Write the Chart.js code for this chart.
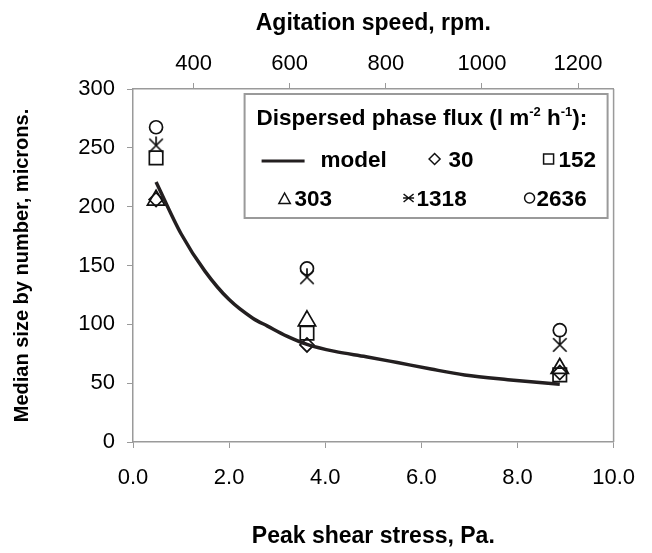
<!DOCTYPE html>
<html>
<head>
<meta charset="utf-8">
<script src="https://cdn.jsdelivr.net/npm/chart.js@4.4.1/dist/chart.umd.min.js"></script>
<style>
    html, body { margin: 0; padding: 0; background: #fff; }
    #wrap { width: 652px; height: 553px; }
    #sizeChart { display: block; }
</style>
</head>
<body>
<div id="wrap"><canvas id="sizeChart" width="652" height="553"></canvas></div>
<script>
// peak shear stress (Pa) of the three runs
const stressX = [0.48, 3.62, 8.88];

// median size by number (microns) per dispersed phase flux
const flux30 = [206, 82.5, 59];
const flux152 = [241.5, 92.5, 57];
const flux303 = [205.5, 103, 62.5];
const flux1318 = [252, 140, 82.5];
const flux2636 = [267.5, 147.5, 95];

// model curve
const modelX = [0.48, 1.0, 1.5, 2.0, 2.5, 2.8, 3.2, 3.62, 4.2, 4.85, 5.5, 6.2, 6.9, 7.8, 8.88];
const modelY = [221, 177, 145, 121, 105, 98.5, 90, 83, 77, 72.5, 67.5, 62, 57, 53, 49];

const stressTicks = [0, 2, 4, 6, 8, 10];
const speedTicks = [400, 600, 800, 1000, 1200];
const sizeTicks = [0, 50, 100, 150, 200, 250, 300];

const AXIS_GREY = '#9a9a9a';
const INK = '#111111';
const FONT = "'Liberation Sans', Arial, sans-serif";

Chart.defaults.font.family = FONT;
Chart.defaults.color = '#000';

function drawStarPath(g, x, y, r) {
    const d = r * 0.75;
    g.moveTo(x - d, y - d);
    g.lineTo(x + d, y + d);
    g.moveTo(x + d, y - d);
    g.lineTo(x - d, y + d);
    g.moveTo(x, y - r);
    g.lineTo(x, y);
}

function makeStar(r, lw) {
    const size = Math.ceil(2 * r + lw + 2);
    const c = document.createElement('canvas');
    c.width = size;
    c.height = size;
    const g = c.getContext('2d');
    g.strokeStyle = INK;
    g.lineWidth = lw;
    g.beginPath();
    drawStarPath(g, size / 2, size / 2, r);
    g.stroke();
    return c;
}

const starImg = makeStar(9, 1.7);

function points(ys) {
    return stressX.map((x, i) => ({ x: x, y: ys[i] }));
}

function markerSet(label, ys, style, radius) {
    return {
        label: label,
        data: points(ys),
        showLine: false,
        pointStyle: style,
        pointRadius: radius,
        pointBorderWidth: 1.7,
        pointBorderColor: INK,
        pointBackgroundColor: 'rgba(0,0,0,0)'
    };
}

function drawMarker(ctx, style, x, y, r) {
    ctx.beginPath();
    if (style === 'diamond') {
        ctx.moveTo(x, y - r);
        ctx.lineTo(x + r, y);
        ctx.lineTo(x, y + r);
        ctx.lineTo(x - r, y);
        ctx.closePath();
    } else if (style === 'square') {
        ctx.rect(x - r, y - r, 2 * r, 2 * r);
    } else if (style === 'triangle') {
        ctx.moveTo(x, y - r);
        ctx.lineTo(x + r * 0.95, y + r * 0.75);
        ctx.lineTo(x - r * 0.95, y + r * 0.75);
        ctx.closePath();
    } else if (style === 'circle') {
        ctx.arc(x, y, r, 0, Math.PI * 2);
    } else if (style === 'star') {
        ctx.moveTo(x - r, y - r * 0.8);
        ctx.lineTo(x + r, y + r * 0.8);
        ctx.moveTo(x + r, y - r * 0.8);
        ctx.lineTo(x - r, y + r * 0.8);
        ctx.moveTo(x - r * 1.1, y);
        ctx.lineTo(x + r * 1.1, y);
    }
    ctx.stroke();
}

// boxed legend inside the plot, two rows of three
const fluxLegend = {
    id: 'fluxLegend',
    afterDraw(chart) {
        const ctx = chart.ctx;
        const area = chart.chartArea;
        const left = area.right - 369;
        const top = area.top + 5;
        ctx.save();

        // right frame of the plot
        ctx.strokeStyle = AXIS_GREY;
        ctx.lineWidth = 1.5;
        ctx.beginPath();
        ctx.moveTo(area.right, area.top);
        ctx.lineTo(area.right, area.bottom);
        ctx.stroke();

        ctx.lineWidth = 2;
        ctx.strokeRect(left, top, 363, 124);

        ctx.fillStyle = '#000';
        ctx.textBaseline = 'alphabetic';
        ctx.textAlign = 'left';

        const big = 'bold 22.5px ' + FONT;
        const small = 'bold 13px ' + FONT;

        // title with superscripts
        const parts = [
            ['Dispersed phase flux (l m', false],
            ['-2', true],
            [' h', false],
            ['-1', true],
            ['):', false]
        ];
        let tx = left + 12;
        const ty = top + 31;
        parts.forEach(p => {
            ctx.font = p[1] ? small : big;
            ctx.fillText(p[0], tx, p[1] ? ty - 9 : ty);
            tx += ctx.measureText(p[0]).width;
        });

        ctx.font = big;
        const row1 = top + 73;
        const row2 = top + 112;
        const mid1 = row1 - 8;
        const mid2 = row2 - 8;

        // model
        ctx.lineWidth = 3;
        ctx.strokeStyle = '#231f20';
        ctx.beginPath();
        ctx.moveTo(left + 17, mid1 + 2);
        ctx.lineTo(left + 60, mid1 + 2);
        ctx.stroke();
        ctx.fillText('model', left + 76, row1);

        ctx.lineWidth = 1.5;
        ctx.strokeStyle = INK;
        const entries = [
            ['diamond', '30', left + 190, left + 204, mid1, row1, 5.5],
            ['square', '152', left + 304, left + 314, mid1, row1, 5],
            ['triangle', '303', left + 40, left + 50, mid2 + 1, row2, 6],
            ['star', '1318', left + 164, left + 172, mid2, row2, 5],
            ['circle', '2636', left + 285, left + 292, mid2, row2, 5]
        ];
        entries.forEach(e => {
            drawMarker(ctx, e[0], e[2], e[4], e[6]);
            ctx.fillText(e[1], e[3], e[5]);
        });
        ctx.restore();
    }
};

const ctx = document.getElementById('sizeChart').getContext('2d');
new Chart(ctx, {
    type: 'scatter',
    data: {
        datasets: [
            {
                label: 'model',
                data: modelX.map((x, i) => ({ x: x, y: modelY[i] })),
                showLine: true,
                borderColor: '#231f20',
                borderWidth: 3.5,
                pointRadius: 0,
                cubicInterpolationMode: 'monotone'
            },
            markerSet('30', flux30, 'rectRot', 7),
            markerSet('152', flux152, 'rect', 9.5),
            markerSet('303', flux303, 'triangle', 10),
            markerSet('1318', flux1318, starImg, 9),
            markerSet('2636', flux2636, 'circle', 6.5)
        ]
    },
    options: {
        responsive: false,
        animation: false,
        events: [],
        layout: { padding: { left: 0, right: 30, top: 0, bottom: 0 } },
        plugins: {
            legend: { display: false },
            tooltip: { enabled: false }
        },
        scales: {
            x: {
                type: 'linear',
                position: 'bottom',
                min: 0,
                max: 10,
                afterBuildTicks: s => { s.ticks = stressTicks.map(v => ({ value: v })); },
                afterFit: s => { s.height = 111; },
                ticks: {
                    padding: 17,
                    font: { size: 22 },
                    color: '#000',
                    callback: v => v.toFixed(1)
                },
                grid: { drawOnChartArea: false, drawTicks: true, tickLength: 6, color: AXIS_GREY },
                border: { color: AXIS_GREY, width: 1.5 },
                title: {
                    display: true,
                    text: 'Peak shear stress, Pa.',
                    font: { size: 23, weight: 'bold' },
                    color: '#000',
                    padding: { top: 0, bottom: 3 }
                }
            },
            x2: {
                type: 'linear',
                position: 'top',
                min: 274,
                max: 1274,
                afterBuildTicks: s => { s.ticks = speedTicks.map(v => ({ value: v })); },
                afterFit: s => { s.height = 89; },
                ticks: { padding: 6, font: { size: 22 }, color: '#000', callback: v => String(v) },
                grid: { drawOnChartArea: false, drawTicks: true, tickLength: 6, color: AXIS_GREY },
                border: { color: AXIS_GREY, width: 1.5 },
                title: {
                    display: true,
                    text: 'Agitation speed, rpm.',
                    font: { size: 23, weight: 'bold' },
                    color: '#000',
                    padding: { top: 10, bottom: 0 }
                }
            },
            y: {
                type: 'linear',
                min: 0,
                max: 300,
                afterBuildTicks: s => { s.ticks = sizeTicks.map(v => ({ value: v })); },
                afterFit: s => { s.width = 133; },
                ticks: { padding: 12, font: { size: 22 }, color: '#000' },
                grid: { drawOnChartArea: false, drawTicks: true, tickLength: 6, color: AXIS_GREY },
                border: { color: AXIS_GREY, width: 1.5 },
                title: {
                    display: true,
                    text: 'Median size by number, microns.',
                    font: { size: 20, weight: 'bold' },
                    color: '#000',
                    padding: { top: 10, bottom: 0 }
                }
            }
        }
    },
    plugins: [fluxLegend]
});
</script>
</body>
</html>
